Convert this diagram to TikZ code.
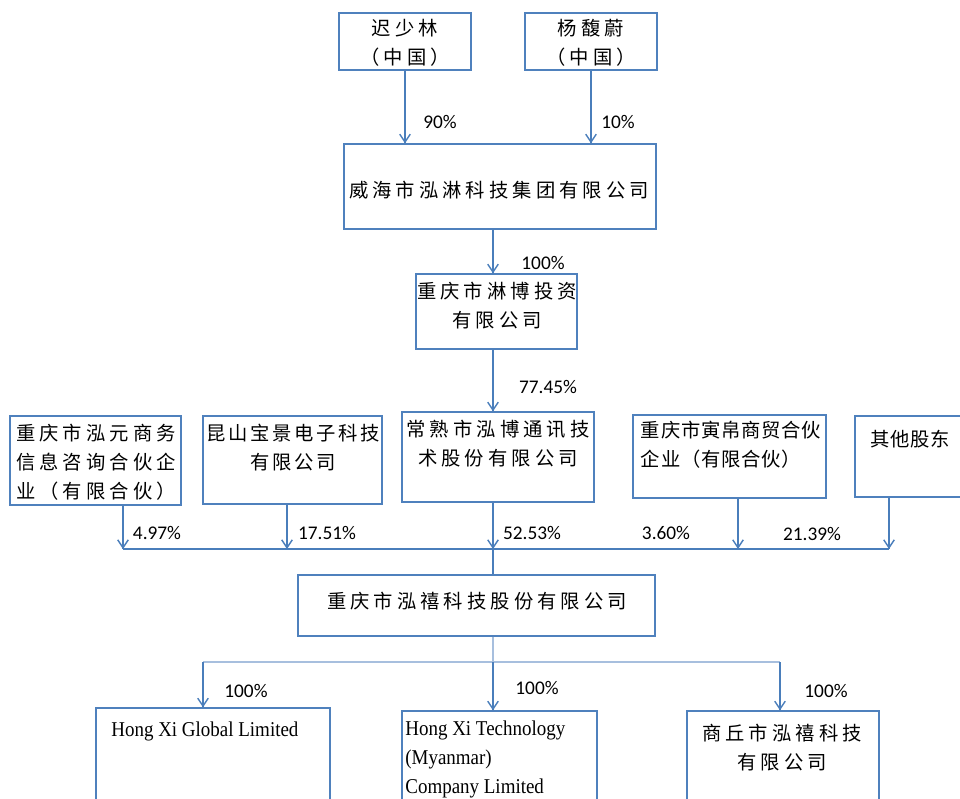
\documentclass[tikz,border=0pt]{standalone}
\usepackage{fontspec}
\setmainfont{Liberation Serif}
\newfontfamily\cjk[LetterSpace=21]{Noto Sans CJK SC}
\newfontfamily\cjkmid[LetterSpace=14]{Noto Sans CJK SC}
\newfontfamily\cjknarrow[LetterSpace=4]{Noto Sans CJK SC}
\newfontfamily\pctfont{Carlito}
\newfontfamily\latinfont[FakeStretch=0.9]{Liberation Serif}
\usepackage{tikz}
\usetikzlibrary{arrows.meta,decorations.markings}
\definecolor{boxblue}{HTML}{4F81BD}
\definecolor{lineblue}{HTML}{4A7EBB}
\definecolor{paleblue}{HTML}{A7BFDE}
\tikzstyle{entity}=[draw=boxblue, line width=0.8pt, inner sep=0pt]
\tikzstyle{cntext}=[font=\fontsize{11}{16.5}\cjk, align=center, inner sep=0pt]
\tikzstyle{latin}=[font=\fontsize{12}{16.5}\latinfont, align=left, inner sep=0pt]
\tikzstyle{pct}=[font=\fontsize{11}{13}\pctfont, inner sep=0pt]
\tikzstyle{link}=[draw=lineblue, line width=0.8pt]
\newcommand{\entity}{\node[entity]}

\begin{document}
\begin{tikzpicture}[x=0.02cm, y=-0.02cm,
    every edge/.style={
        draw=lineblue, line width=0.8pt,
        postaction={decorate,
                    decoration={markings,mark=at position 1 with {\arrow{Straight Barb[length=4.5pt,width=6pt]}}}
                   }
        }
]
\useasboundingbox (0,0) rectangle (960,798);
\clip (0,0) rectangle (960,798);
% boxes
\entity (chi) at (405,41.5) [minimum width=2.64cm, minimum height=1.14cm] {};
\entity (yang) at (591,41.5) [minimum width=2.64cm, minimum height=1.14cm] {};
\entity (weihai) at (500,186.5) [minimum width=6.24cm, minimum height=1.70cm] {};
\entity (linbo) at (496.5,311.5) [minimum width=3.22cm, minimum height=1.50cm] {};
\entity (hongyuan) at (95.5,460.5) [minimum width=3.42cm, minimum height=1.78cm] {};
\entity (kunshan) at (292.5,460) [minimum width=3.58cm, minimum height=1.76cm] {};
\entity (changshu) at (498,457) [minimum width=3.84cm, minimum height=1.80cm] {};
\entity (yinbo) at (729.5,456.5) [minimum width=3.86cm, minimum height=1.66cm] {};
\entity (other) at (915,456.5) [minimum width=2.40cm, minimum height=1.62cm] {};
\entity (hongxi) at (476.5,605.5) [minimum width=7.14cm, minimum height=1.22cm] {};
\entity (global) at (213,769) [minimum width=4.68cm, minimum height=2.44cm] {};
\entity (tech) at (499.5,770.5) [minimum width=3.90cm, minimum height=2.38cm] {};
\entity (shangqiu) at (783,770.5) [minimum width=3.84cm, minimum height=2.38cm] {};
% texts
\node[cntext] (chit) at (405,43) {迟少林\\（中国）};
\node[cntext] (yangt) at (591,43) {杨馥蔚\\（中国）};
\node[cntext] (weihait) at (499,190) {威海市泓淋科技集团有限公司};
\node[cntext] (linbot) at (497,306) {重庆市淋博投资\\有限公司};
\node[cntext, align=left] (hongyuant) at (96,462) {重庆市泓元商务\\信息咨询合伙企\\业（有限合伙）};
\node[cntext, font=\fontsize{11}{16.5}\cjkmid] (kunshant) at (293,448) {昆山宝景电子科技\\有限公司};
\node[cntext] (changshut) at (498,444) {常熟市泓博通讯技\\术股份有限公司};
\node[cntext, align=left, font=\fontsize{11}{16.5}\cjknarrow] (yinbot) at (731,445) {重庆市寅帛商贸合伙\\企业（有限合伙）};
\node[cntext, font=\fontsize{11}{16.5}\cjknarrow] (othert) at (910,439) {其他股东};
\node[cntext] (hongxit) at (477,601) {重庆市泓禧科技股份有限公司};
\node[latin, anchor=west] (globalt) at (111,731) {Hong Xi Global Limited};
\node[latin, anchor=west] (techt) at (405,759) {Hong Xi Technology\\(Myanmar)\\Company Limited};
\node[cntext] (shangqiut) at (782,748) {商丘市泓禧科技\\有限公司};
% shares
\node[pct] (p90) at (440,122) {90\%};
\node[pct] (p10) at (618,122) {10\%};
\node[pct] (p100a) at (543,263) {100\%};
\node[pct] (p7745) at (548,387) {77.45\%};
\node[pct] (p497) at (157,533) {4.97\%};
\node[pct] (p1751) at (327,533) {17.51\%};
\node[pct] (p5253) at (532,533) {52.53\%};
\node[pct] (p360) at (666,533) {3.60\%};
\node[pct] (p2139) at (812,534) {21.39\%};
\node[pct] (p100b) at (246,691) {100\%};
\node[pct] (p100c) at (537,688) {100\%};
\node[pct] (p100d) at (826,691) {100\%};
% bus points
\coordinate (trunk) at (493,0);
\coordinate (c1) at (123,549);
\coordinate (c2) at (287,549);
\coordinate (c3) at (493,549);
\coordinate (c4) at (738,549);
\coordinate (c5) at (889,549);
\coordinate (f1) at (203,662);
\coordinate (f2) at (493,662);
\coordinate (f3) at (780,662);
\draw[link] (c1) -- (c5);
\draw[link] (c3) -- (hongxi.north -| c3);
\draw[draw=paleblue, line width=1.2pt] (hongxi.south -| f2) -- (f2);
\draw[draw=paleblue, line width=1.2pt] (f1) -- (f3);
\path
(chi.south) edge (chi.south |- weihai.north)
(yang.south) edge (yang.south |- weihai.north)
(weihai.south -| trunk) edge (linbo.north -| trunk)
(linbo.south -| trunk) edge (changshu.north -| trunk)
(hongyuan.south -| c1) edge (c1)
(kunshan.south -| c2) edge (c2)
(changshu.south -| c3) edge (c3)
(yinbo.south -| c4) edge (c4)
(other.south -| c5) edge (c5)
(f1) edge (global.north -| f1)
(f2) edge (tech.north -| f2)
(f3) edge (shangqiu.north -| f3)
;
\end{tikzpicture}
\end{document}
